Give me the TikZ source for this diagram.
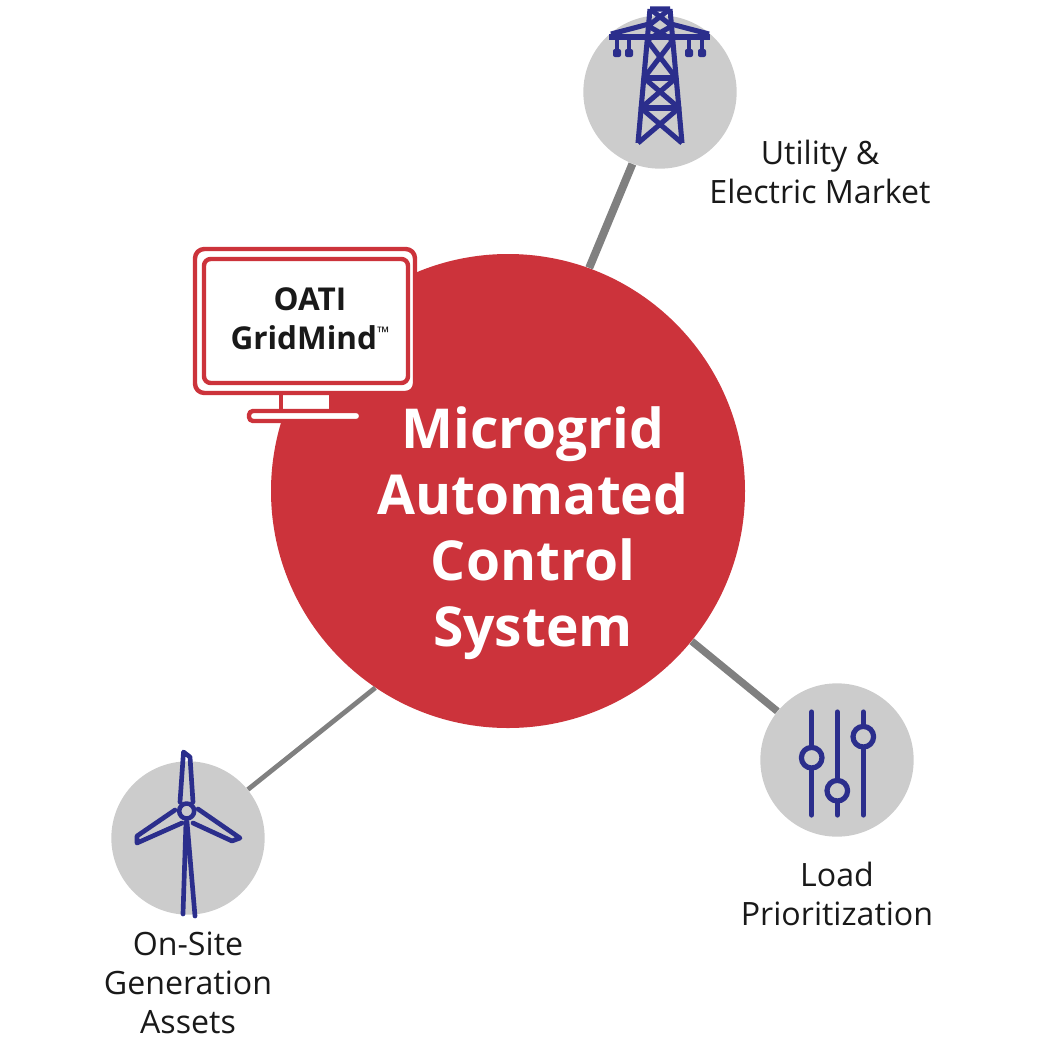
\documentclass[tikz,border=0pt]{standalone}
\usepackage{fontspec}
\setmainfont{Open Sans}
\usepackage{tikz}

\definecolor{oatired}{HTML}{CC333B}
\definecolor{discgray}{HTML}{CCCCCC}
\definecolor{linkgray}{HTML}{808080}
\definecolor{iconblue}{HTML}{2B2E8C}

\begin{document}
\begin{tikzpicture}[
            x = 0.75pt, y = -0.75pt, % one unit is one pixel of the reference
            line join = round,
            semithick % line style
        ]

        \tikzstyle{every disc}=[
            circle,
            fill = discgray,
            inner sep = 0pt,
            minimum size = 115pt
        ]
        \tikzstyle{caption}=[
            align = center,
            inner sep = 0pt,
            font = \fontsize{24.1}{29.25}\selectfont,
            text = black!90
        ]
        \tikzstyle{link}=[draw = linkgray]
        \tikzstyle{icon}=[draw = iconblue, line width = 3.8pt]
        \tikzstyle{slider}=[draw = iconblue, line width = 3.9pt, line cap = round]
        \tikzstyle{knob}=[draw = iconblue, fill = discgray, line width = 3.9pt]
        \tikzstyle{blade}=[draw = iconblue, line width = 3.5pt, line cap = round]
        \tikzstyle{screen}=[
            rectangle,
            rounded corners = 7pt,
            draw = oatired,
            fill = white,
            line width = 3.3pt
        ]

        \useasboundingbox (0,0) rectangle (1043,1043);

        \node[circle, fill = oatired, inner sep = 0pt, minimum size = 355.5pt] (control) at (508,491) {};
        \node[every disc] (utility) at (660,92) {};
        \node[every disc] (load) at (837,760) {};
        \node[every disc] (onsite) at (188,838) {};

        \path[link, line width = 6pt] (control.70.8) edge (utility.249.2);
        \path[link, line width = 5.5pt] (control) edge (load);
        \path[link, line width = 3.6pt] (control.236.4) edge (onsite.39.2);

        \node[font = \fontsize{41.3}{49.6}\selectfont\bfseries, text = white, align = center, inner sep = 0pt]
            (title) at (533,533) {Microgrid\\Automated\\Control\\System};

        \node[caption] (utilitytext) at (820,172) {Utility \&\\Electric Market};
        \node[caption] (loadtext) at (837,894) {Load\\Prioritization};
        \node[caption] (onsitetext) at (188,983) {On-Site\\Generation\\Assets};

        % monitor
        \fill[white] (281,393) rectangle (331,411);
        \draw[oatired, line width = 3.3pt] (281,393) -- (281,411);
        \draw[oatired, line width = 3.3pt] (331,393) -- (331,411);
        \draw[oatired, fill = white, line width = 3.3pt, rounded corners = 3pt] (249,411) rectangle (361,421);
        \node[screen, minimum width = 165pt, minimum height = 108pt] (casing) at (305,321) {};
        \node[screen, minimum width = 153pt, minimum height = 93pt, rounded corners = 5pt] (display) at (306,321) {};
        \node[font = \fontsize{23.6}{29.25}\selectfont\bfseries, align = center, text = black!90, inner sep = 0pt]
            (gridmind) at (310,319) {OATI\\GridMind\raisebox{8.5pt}{\fontsize{12}{12}\mdseries\selectfont ™}};

        % tower
        \draw[icon] (650,9) -- (638,143) (670,9) -- (682,143) (650,9) -- (670,9);
        \draw[icon] (650,9) -- (672,26) -- (647,40) (670,9) -- (648,26) -- (673,40);
        \draw[icon] (647,40) -- (676,78) -- (641,108) -- (682,143);
        \draw[icon] (673,40) -- (644,78) -- (679,108) -- (638,143);
        \draw[icon] (644,78) -- (676,78) (641,108) -- (679,108);
        \draw[icon, line width = 4.5pt] (609,37) -- (710,37);
        \draw[icon] (611,34) -- (649,24) (709,34) -- (671,24);
        \foreach \x in {617,629,689,702} {
            \draw[iconblue, line width = 2.4pt] (\x,38) -- (\x,50);
            \fill[iconblue, rounded corners = 1.5pt] (\x-4,49) rectangle (\x+4,57);
        }

        % sliders
        \draw[slider] (811.7,712) -- (811.7,815);
        \draw[slider] (837.3,712) -- (837.3,815);
        \draw[slider] (863.3,712) -- (863.3,815);
        \draw[knob] (811.7,757.7) circle (10.3);
        \draw[knob] (837.3,790.7) circle (10.3);
        \draw[knob] (863.3,736.7) circle (10.3);

        % turbine
        \draw[blade] (186,822) -- (183,914) (187,822) -- (195,916);
        \draw[blade] (180,802) -- (183.5,752) -- (190,757) -- (193,802);
        \draw[blade] (175,810) -- (137,836) -- (137,843) -- (182,823);
        \draw[blade] (198,809) -- (240,838) -- (232,841) -- (193,823);
        \draw[knob, line width = 3.4pt] (186.7,811) circle (7.5);
\end{tikzpicture}
\end{document}
